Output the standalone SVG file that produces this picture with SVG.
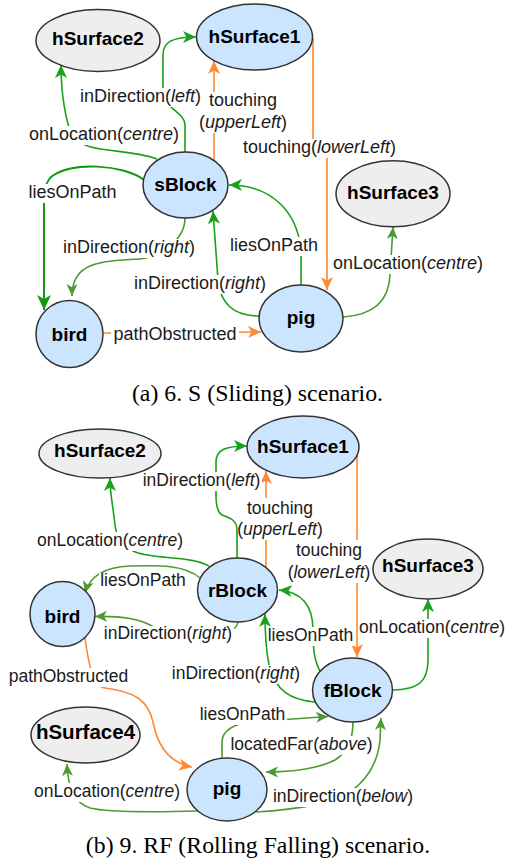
<svg xmlns="http://www.w3.org/2000/svg" width="509" height="863" viewBox="0 0 509 863">
<defs>
<style>
.nd{stroke:#333;stroke-width:1.5}
.blue{fill:#cce5ff}
.gray{fill:#eeeeee}
.nt{font-family:"Liberation Sans",Arial,sans-serif;font-weight:bold;font-size:19px;text-anchor:middle;fill:#000}
.e{fill:none;stroke-width:1.6}
.g{stroke:#1aa01a}
.d{stroke:#109a10;stroke-width:2}
.o{stroke:#4b9b32}
.r{stroke:#ff8833}
.lb{fill:#fff}
.lt{font-family:"Liberation Sans",Arial,sans-serif;font-size:18px;text-anchor:middle;fill:#1a1a1a}
.lt2{font-size:17.5px}
.it{font-style:italic}
.cap{font-family:"Liberation Serif","Times New Roman",serif;font-size:23.8px;text-anchor:middle;fill:#000}
</style>
<marker id="mg" markerUnits="userSpaceOnUse" markerWidth="13" markerHeight="13" refX="13" refY="6.5" orient="auto"><path d="M0,0.5 L13,6.5 L0,12.5 L3.5,6.5 Z" fill="#1aa01a"/></marker>
<marker id="md" markerUnits="userSpaceOnUse" markerWidth="15" markerHeight="15" refX="15" refY="7.5" orient="auto"><path d="M0,0.5 L15,7.5 L0,14.5 L4,7.5 Z" fill="#109a10"/></marker>
<marker id="mo" markerUnits="userSpaceOnUse" markerWidth="12" markerHeight="12" refX="12" refY="6" orient="auto"><path d="M0,0.5 L12,6 L0,11.5 L3.2,6 Z" fill="#4b9b32"/></marker>
<marker id="mr" markerUnits="userSpaceOnUse" markerWidth="13" markerHeight="13" refX="13" refY="6.5" orient="auto"><path d="M0,0.5 L13,6.5 L0,12.5 L3.5,6.5 Z" fill="#ff8833"/></marker>
</defs>
<rect width="509" height="863" fill="#fff"/>

<g id="connectors">
<!-- (a) -->
<path class="e g" marker-end="url(#mg)" d="M157,159 C125,147 85,155 72,135 C66,122 61,95 61,65"/>
<path class="e g" marker-end="url(#mg)" d="M185,152 L185,125 C185,112 163,108 163,92 L163,55 C163,42 172,37 196,37"/>
<path class="e r" marker-end="url(#mr)" d="M214,160 L214,61"/>
<path class="e r" marker-end="url(#mr)" d="M313,38 L313,145 L327,155 L327,290"/>
<path class="e d" marker-end="url(#md)" d="M144,180 C125,165 70,160 50,178 C46,183 44,190 44,200 L44,310"/>
<path class="e o" marker-end="url(#mo)" d="M185,218 C185,240 160,257 140,259 C100,261 72,262 72,296"/>
<path class="e g" marker-end="url(#mg)" d="M301,285 L301,250 C297,210 270,185 229,185"/>
<path class="e g" marker-end="url(#mg)" d="M259,316 C230,316 220,300 218,280 L213,211"/>
<path class="e o" marker-end="url(#mo)" d="M343,317 C375,315 389,300 390,275 L393,227"/>
<path class="e r" marker-end="url(#mr)" d="M103,333 L261,332"/>
<!-- (b) -->
<path class="e g" marker-end="url(#mg)" d="M209,566 C190,555 150,560 133,551 C120,544 116,535 115,525 C113,505 110,495 110,478"/>
<path class="e g" marker-end="url(#mg)" d="M237,558 L237,530 C237,520 230,518 222,515 C217,512 216,505 216,495 L216,462 C216,450 225,446 247,446"/>
<path class="e r" marker-end="url(#mr)" d="M266,567 L266,471"/>
<path class="e r" marker-end="url(#mr)" d="M357,455 L357,657"/>
<path class="e o" marker-end="url(#mo)" d="M200,578 C185,565 160,565 130,566 C105,567 90,575 85,593"/>
<path class="e o" marker-end="url(#mo)" d="M238,622 C236,640 175,640 150,625 C135,617 115,616 95,616.5"/>
<path class="e g" marker-end="url(#mg)" d="M320,671 C314,660 313,648 313,630 C313,605 302,592 279,590"/>
<path class="e g" marker-end="url(#mg)" d="M315,702 C290,700 275,690 269,665 C266,650 265,635 265,614"/>
<path class="e g" marker-end="url(#mg)" d="M392,690 C420,690 428,680 428,660 L428,599"/>
<path class="e r" marker-end="url(#mr)" d="M85,638 C88,660 92,686 105,688 C135,692 148,700 153,722 C158,748 170,763 192,767"/>
<path class="e o" marker-end="url(#mo)" d="M222,758 L222,742 C222,730 235,724 250,722 L328,716.5"/>
<path class="e o" marker-end="url(#mo)" d="M353,722 C353,738 348,752 335,760 C315,770 290,772 266,772"/>
<path class="e o" marker-end="url(#mo)" d="M256,812 C290,810 330,805 350,792 C370,778 378,760 380,740 L381,718"/>
<path class="e o" marker-end="url(#mo)" d="M198,811 C160,812 110,813 90,808 C75,803 68,790 67,764"/>

<!-- label backgrounds -->
<rect class="lb" x="26" y="126" width="156" height="19"/>
<rect class="lb" x="77" y="88" width="127" height="19"/>
<rect class="lb" x="197" y="92" width="92" height="41"/>
<rect class="lb" x="240" y="139" width="159" height="19"/>
<rect class="lb" x="26" y="184" width="93" height="19"/>
<rect class="lb" x="61" y="239" width="136" height="19"/>
<rect class="lb" x="228" y="237" width="92" height="19"/>
<rect class="lb" x="131" y="275" width="138" height="19"/>
<rect class="lb" x="331" y="255" width="154" height="19"/>
<rect class="lb" x="111" y="326" width="128" height="19"/>

<rect class="lb" x="35" y="532" width="150" height="19"/>
<rect class="lb" x="141" y="472" width="121" height="19"/>
<rect class="lb" x="239" y="498" width="86" height="42"/>
<rect class="lb" x="285" y="540" width="87" height="43"/>
<rect class="lb" x="99" y="573" width="88" height="18"/>
<rect class="lb" x="102" y="626" width="132" height="18"/>
<rect class="lb" x="268" y="627" width="87" height="19"/>
<rect class="lb" x="170" y="665" width="132" height="19"/>
<rect class="lb" x="358" y="619" width="148" height="19"/>
<rect class="lb" x="7" y="668" width="123" height="19"/>
<rect class="lb" x="198" y="706" width="89" height="19"/>
<rect class="lb" x="229" y="736" width="145" height="19"/>
<rect class="lb" x="271" y="788" width="144" height="19"/>
<rect class="lb" x="32" y="783" width="150" height="19"/>

<!-- labels (a) -->
<text class="lt" x="104" y="140">onLocation(<tspan class="it">centre</tspan>)</text>
<text class="lt" x="140.5" y="102">inDirection(<tspan class="it">left</tspan>)</text>
<text class="lt" x="243" y="106">touching</text>
<text class="lt" x="243" y="128">(<tspan class="it">upperLeft</tspan>)</text>
<text class="lt" x="319.5" y="153">touching(<tspan class="it">lowerLeft</tspan>)</text>
<text class="lt" x="72.5" y="198">liesOnPath</text>
<text class="lt" x="129" y="253">inDirection(<tspan class="it">right</tspan>)</text>
<text class="lt" x="274" y="251">liesOnPath</text>
<text class="lt" x="200" y="289">inDirection(<tspan class="it">right</tspan>)</text>
<text class="lt" x="408" y="269">onLocation(<tspan class="it">centre</tspan>)</text>
<text class="lt" x="175" y="340">pathObstructed</text>

<!-- labels (b) -->
<text class="lt lt2" x="110" y="546">onLocation(<tspan class="it">centre</tspan>)</text>
<text class="lt lt2" x="201.5" y="486">inDirection(<tspan class="it">left</tspan>)</text>
<text class="lt lt2" x="280" y="514">touching</text>
<text class="lt lt2" x="280" y="534.5">(<tspan class="it">upperLeft</tspan>)</text>
<text class="lt lt2" x="329" y="556">touching</text>
<text class="lt lt2" x="329" y="578">(<tspan class="it">lowerLeft</tspan>)</text>
<text class="lt lt2" x="143" y="586">liesOnPath</text>
<text class="lt lt2" x="168" y="639">inDirection(<tspan class="it">right</tspan>)</text>
<text class="lt lt2" x="310.5" y="641">liesOnPath</text>
<text class="lt lt2" x="236" y="679">inDirection(<tspan class="it">right</tspan>)</text>
<text class="lt lt2" x="432" y="633">onLocation(<tspan class="it">centre</tspan>)</text>
<text class="lt lt2" x="68.5" y="682">pathObstructed</text>
<text class="lt lt2" x="242.5" y="720">liesOnPath</text>
<text class="lt lt2" x="301.5" y="750">locatedFar(<tspan class="it">above</tspan>)</text>
<text class="lt lt2" x="343" y="802">inDirection(<tspan class="it">below</tspan>)</text>
<text class="lt lt2" x="107" y="797">onLocation(<tspan class="it">centre</tspan>)</text>
</g>

<!-- nodes (a) -->
<g id="a-hSurface2"><ellipse class="nd gray" cx="98" cy="40.5" rx="62" ry="31"/><text class="nt" x="98" y="45">hSurface2</text></g>
<g id="a-hSurface1"><ellipse class="nd blue" cx="254.5" cy="37" rx="58" ry="33"/><text class="nt" x="254.5" y="43.3">hSurface1</text></g>
<g id="a-sBlock"><ellipse class="nd blue" cx="185.5" cy="185" rx="42.5" ry="33"/><text class="nt" x="185.5" y="190.7">sBlock</text></g>
<g id="a-hSurface3"><ellipse class="nd gray" cx="393" cy="193.7" rx="57" ry="33"/><text class="nt" x="393" y="199">hSurface3</text></g>
<g id="a-bird"><ellipse class="nd blue" cx="69.5" cy="334" rx="33.5" ry="33.5"/><text class="nt" x="69.5" y="340.7">bird</text></g>
<g id="a-pig"><ellipse class="nd blue" cx="301" cy="318.5" rx="42" ry="33.5"/><text class="nt" x="301" y="324">pig</text></g>
<text class="cap" x="257.5" y="401">(a) 6. S (Sliding) scenario.</text>

<!-- nodes (b) -->
<g id="b-hSurface2"><ellipse class="nd gray" cx="100" cy="453.5" rx="61" ry="24.5"/><text class="nt" x="100" y="456.7">hSurface2</text></g>
<g id="b-hSurface1"><ellipse class="nd blue" cx="303" cy="447" rx="56" ry="31"/><text class="nt" x="303" y="452.7">hSurface1</text></g>
<g id="b-rBlock"><ellipse class="nd blue" cx="237.5" cy="590" rx="40" ry="32"/><text class="nt" x="237.5" y="596.7">rBlock</text></g>
<g id="b-hSurface3"><ellipse class="nd gray" cx="428" cy="569" rx="55" ry="30"/><text class="nt" x="428" y="572.3">hSurface3</text></g>
<g id="b-bird"><ellipse class="nd blue" cx="62.5" cy="614" rx="32.5" ry="32.5"/><text class="nt" x="62.5" y="623.3">bird</text></g>
<g id="b-fBlock"><ellipse class="nd blue" cx="352.5" cy="690" rx="40" ry="32"/><text class="nt" x="352.5" y="696.7">fBlock</text></g>
<g id="b-hSurface4"><ellipse class="nd gray" cx="85.5" cy="735" rx="54.5" ry="28"/><text class="nt" x="85.5" y="739" style="font-size:20.5px">hSurface4</text></g>
<g id="b-pig"><ellipse class="nd blue" cx="227" cy="789.5" rx="40" ry="31.5"/><text class="nt" x="227" y="795">pig</text></g>
<text class="cap" x="258" y="853">(b) 9. RF (Rolling Falling) scenario.</text>
</svg>
